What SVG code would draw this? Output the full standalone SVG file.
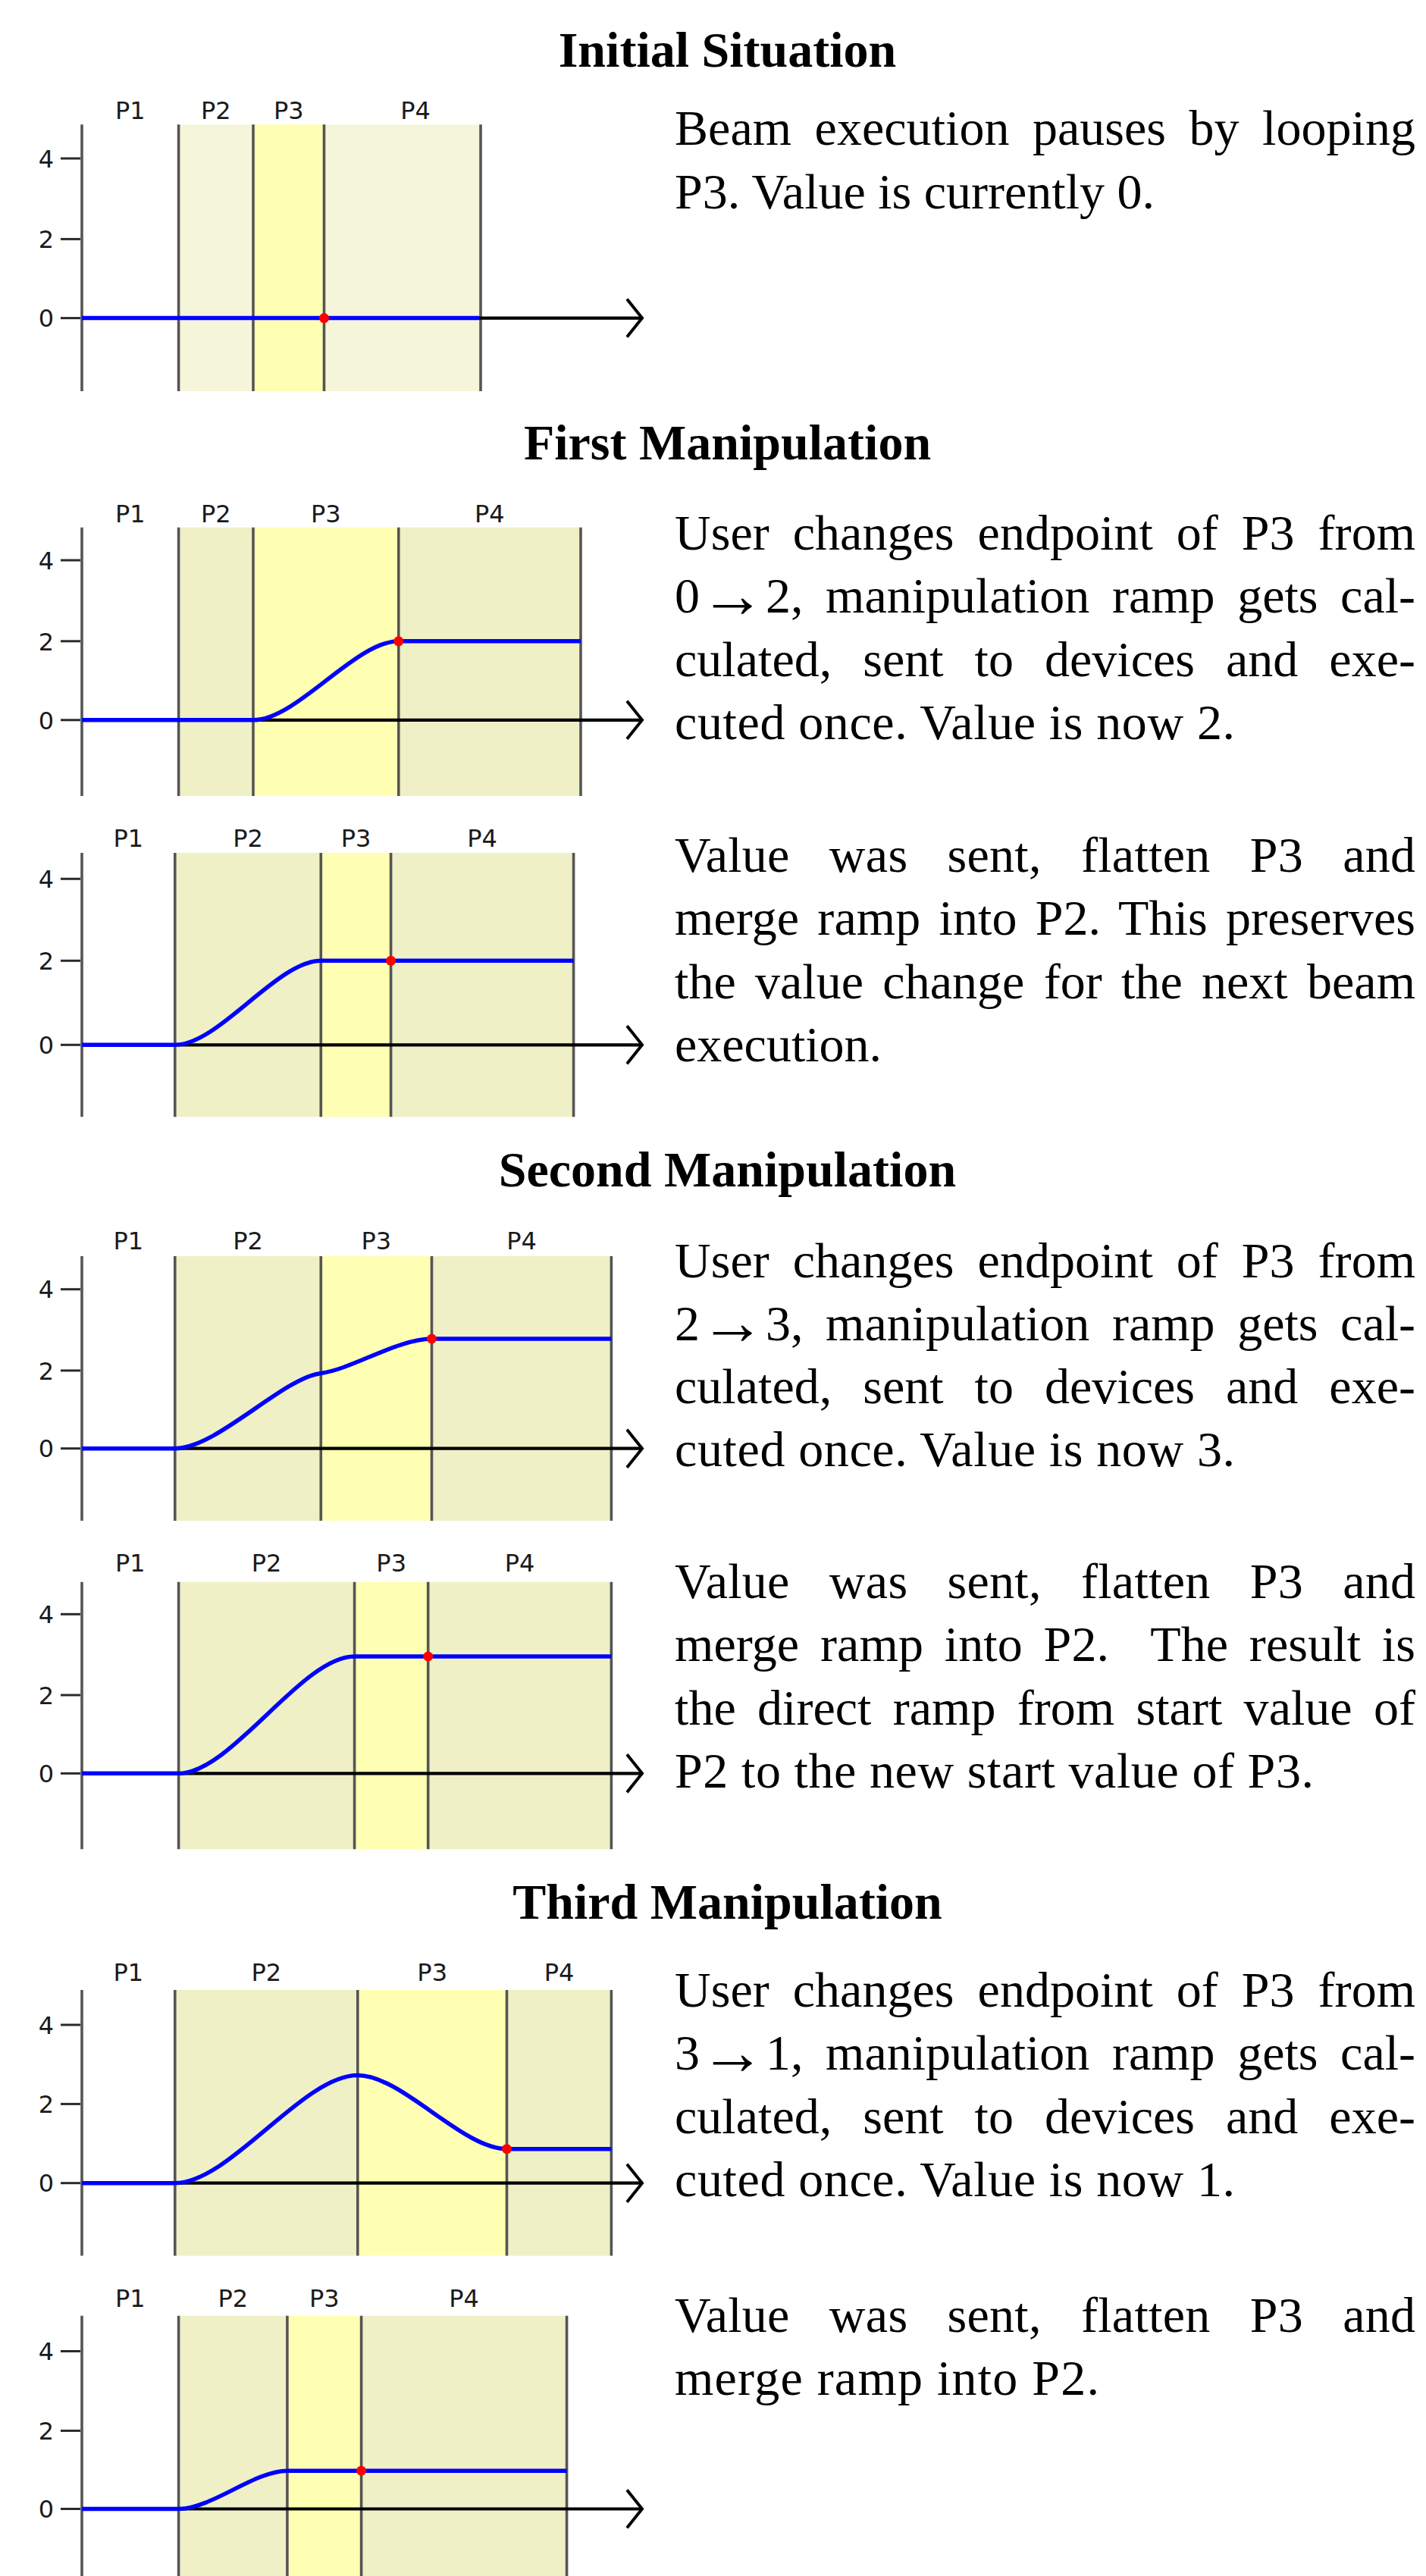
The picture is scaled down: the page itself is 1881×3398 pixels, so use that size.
<svg xmlns="http://www.w3.org/2000/svg" width="1881" height="3398" viewBox="0 0 1881 3398">
  <style>
    .title { font-family: "Liberation Serif", "Times New Roman", serif; font-weight: bold; font-size: 66px; fill: #000; text-anchor: middle; }
    .body { font-family: "Liberation Serif", "Times New Roman", serif; font-size: 66px; fill: #000; }
    .arr { font-size: 86px; text-anchor: middle; }
    .lbl { font-family: "DejaVu Sans", sans-serif; font-size: 32px; fill: #1a1a1a; text-anchor: middle; }
    .tkl { font-family: "DejaVu Sans", sans-serif; font-size: 32px; fill: #1a1a1a; text-anchor: end; }
    .tk { stroke: #2a2a2a; stroke-width: 3; }
    .vl { stroke: #555; stroke-width: 3.6; }
    .shade { fill: #f0f0c6; }
    .shade0 { fill: #f5f5da; }
    .hot { fill: #ffffb3; }
    .axis { stroke: #000; stroke-width: 4.2; fill: none; marker-end: url(#chev); }
    .ramp { stroke: #0000ff; stroke-width: 5.5; fill: none; }
    .pt { fill: #ff0000; }
  </style>
  <defs>
    <marker id="chev" markerUnits="userSpaceOnUse" markerWidth="60" markerHeight="60" refX="0" refY="0" orient="auto" style="overflow:visible">
      <path d="M-21,-25 L-1,0 L-21,25" fill="none" stroke="#000" stroke-width="4"/>
    </marker>
  </defs>

  <rect width="1881" height="3398" fill="#fff"/>

  <!-- Section headings -->
  <g id="headings">
    <text class="title" x="959.5" y="88">Initial Situation</text>
    <text class="title" x="959.5" y="605.5">First Manipulation</text>
    <text class="title" x="959.5" y="1565">Second Manipulation</text>
    <text class="title" x="959.5" y="2530.5">Third Manipulation</text>
  </g>

  <!-- Plot 1: initial situation -->
  <g id="plot-initial">
    <rect class="shade0" x="235.6" y="164.3" width="98.4" height="351.7"/>
    <rect class="hot" x="334" y="164.3" width="93.5" height="351.7"/>
    <rect class="shade0" x="427.5" y="164.3" width="206.5" height="351.7"/>
    <g class="vl">
      <line x1="108" y1="164.3" x2="108" y2="516"/>
      <line x1="235.6" y1="164.3" x2="235.6" y2="516"/>
      <line x1="334" y1="164.3" x2="334" y2="516"/>
      <line x1="427.5" y1="164.3" x2="427.5" y2="516"/>
      <line x1="634" y1="164.3" x2="634" y2="516"/>
    </g>
    <path class="axis" d="M108,419.6 H848"/>
    <path class="ramp" d="M108,419.6 H632"/>
    <circle class="pt" cx="427.5" cy="419.6" r="6.5"/>
    <g class="tk"><line x1="80" y1="419.6" x2="106" y2="419.6"/><line x1="80" y1="315.4" x2="106" y2="315.4"/><line x1="80" y1="209" x2="106" y2="209"/></g>
    <text class="tkl" x="71" y="431.3">0</text><text class="tkl" x="71" y="327.1">2</text><text class="tkl" x="71" y="220.7">4</text>
    <text class="lbl" x="171.8" y="157">P1</text><text class="lbl" x="284.8" y="157">P2</text><text class="lbl" x="380.8" y="157">P3</text><text class="lbl" x="548" y="157">P4</text>
  </g>

  <!-- Plot 2: first manipulation, ramp calculated -->
  <g id="plot-first-a">
    <rect class="shade" x="235.6" y="695.7" width="98.4" height="354.3"/>
    <rect class="hot" x="334" y="695.7" width="191.8" height="354.3"/>
    <rect class="shade" x="525.8" y="695.7" width="240.2" height="354.3"/>
    <g class="vl">
      <line x1="108" y1="695.7" x2="108" y2="1050"/>
      <line x1="235.6" y1="695.7" x2="235.6" y2="1050"/>
      <line x1="334" y1="695.7" x2="334" y2="1050"/>
      <line x1="525.8" y1="695.7" x2="525.8" y2="1050"/>
      <line x1="766" y1="695.7" x2="766" y2="1050"/>
    </g>
    <path class="axis" d="M108,949.8 H848"/>
    <path class="ramp" d="M108,949.8 H334 C391.5,949.8 468.3,845.8 525.8,845.8 H766"/>
    <circle class="pt" cx="525.8" cy="845.8" r="6.5"/>
    <g class="tk"><line x1="80" y1="949.8" x2="106" y2="949.8"/><line x1="80" y1="845.8" x2="106" y2="845.8"/><line x1="80" y1="739" x2="106" y2="739"/></g>
    <text class="tkl" x="71" y="961.5">0</text><text class="tkl" x="71" y="857.5">2</text><text class="tkl" x="71" y="750.7">4</text>
    <text class="lbl" x="171.8" y="688.8">P1</text><text class="lbl" x="284.8" y="688.8">P2</text><text class="lbl" x="429.9" y="688.8">P3</text><text class="lbl" x="645.9" y="688.8">P4</text>
  </g>

  <!-- Plot 3: first manipulation, merged into P2 -->
  <g id="plot-first-b">
    <rect class="shade" x="230.8" y="1125" width="192.5" height="348.3"/>
    <rect class="hot" x="423.3" y="1125" width="92.3" height="348.3"/>
    <rect class="shade" x="515.6" y="1125" width="241" height="348.3"/>
    <g class="vl">
      <line x1="108" y1="1125" x2="108" y2="1473.3"/>
      <line x1="230.8" y1="1125" x2="230.8" y2="1473.3"/>
      <line x1="423.3" y1="1125" x2="423.3" y2="1473.3"/>
      <line x1="515.6" y1="1125" x2="515.6" y2="1473.3"/>
      <line x1="756.6" y1="1125" x2="756.6" y2="1473.3"/>
    </g>
    <path class="axis" d="M108,1378.3 H848"/>
    <path class="ramp" d="M108,1378.3 H230.8 C288.6,1378.3 365.5,1267.3 423.3,1267.3 H756.6"/>
    <circle class="pt" cx="515.6" cy="1267.3" r="6.5"/>
    <g class="tk"><line x1="80" y1="1378.3" x2="106" y2="1378.3"/><line x1="80" y1="1267.3" x2="106" y2="1267.3"/><line x1="80" y1="1159.3" x2="106" y2="1159.3"/></g>
    <text class="tkl" x="71" y="1390">0</text><text class="tkl" x="71" y="1279">2</text><text class="tkl" x="71" y="1171">4</text>
    <text class="lbl" x="169.4" y="1116.7">P1</text><text class="lbl" x="327" y="1116.7">P2</text><text class="lbl" x="469.5" y="1116.7">P3</text><text class="lbl" x="636.1" y="1116.7">P4</text>
  </g>

  <!-- Plot 4: second manipulation, ramp calculated -->
  <g id="plot-second-a">
    <rect class="shade" x="230.8" y="1657" width="192.5" height="349"/>
    <rect class="hot" x="423.3" y="1657" width="146.2" height="349"/>
    <rect class="shade" x="569.5" y="1657" width="236.9" height="349"/>
    <g class="vl">
      <line x1="108" y1="1657" x2="108" y2="2006"/>
      <line x1="230.8" y1="1657" x2="230.8" y2="2006"/>
      <line x1="423.3" y1="1657" x2="423.3" y2="2006"/>
      <line x1="569.5" y1="1657" x2="569.5" y2="2006"/>
      <line x1="806.4" y1="1657" x2="806.4" y2="2006"/>
    </g>
    <path class="axis" d="M108,1910.7 H848"/>
    <path class="ramp" d="M108,1910.7 H230.8 C285.8,1910.7 373.3,1817.4 423.3,1811.4 C463.3,1806.6 524.5,1766 569.5,1766 H806.4"/>
    <circle class="pt" cx="569.5" cy="1766" r="6.5"/>
    <g class="tk"><line x1="80" y1="1910.7" x2="106" y2="1910.7"/><line x1="80" y1="1807.9" x2="106" y2="1807.9"/><line x1="80" y1="1700.7" x2="106" y2="1700.7"/></g>
    <text class="tkl" x="71" y="1922.4">0</text><text class="tkl" x="71" y="1819.6">2</text><text class="tkl" x="71" y="1712.4">4</text>
    <text class="lbl" x="169.4" y="1648">P1</text><text class="lbl" x="327" y="1648">P2</text><text class="lbl" x="496.4" y="1648">P3</text><text class="lbl" x="688" y="1648">P4</text>
  </g>

  <!-- Plot 5: second manipulation, merged into P2 -->
  <g id="plot-second-b">
    <rect class="shade" x="235.6" y="2086.7" width="232" height="352.6"/>
    <rect class="hot" x="467.6" y="2086.7" width="97.1" height="352.6"/>
    <rect class="shade" x="564.7" y="2086.7" width="241.7" height="352.6"/>
    <g class="vl">
      <line x1="108" y1="2086.7" x2="108" y2="2439.3"/>
      <line x1="235.6" y1="2086.7" x2="235.6" y2="2439.3"/>
      <line x1="467.6" y1="2086.7" x2="467.6" y2="2439.3"/>
      <line x1="564.7" y1="2086.7" x2="564.7" y2="2439.3"/>
      <line x1="806.4" y1="2086.7" x2="806.4" y2="2439.3"/>
    </g>
    <path class="axis" d="M108,2339.3 H848"/>
    <path class="ramp" d="M108,2339.3 H235.6 C305.2,2339.3 398,2185 467.6,2185 H806.4"/>
    <circle class="pt" cx="564.7" cy="2185" r="6.5"/>
    <g class="tk"><line x1="80" y1="2339.3" x2="106" y2="2339.3"/><line x1="80" y1="2236" x2="106" y2="2236"/><line x1="80" y1="2129.3" x2="106" y2="2129.3"/></g>
    <text class="tkl" x="71" y="2351">0</text><text class="tkl" x="71" y="2247.7">2</text><text class="tkl" x="71" y="2141">4</text>
    <text class="lbl" x="171.8" y="2073.3">P1</text><text class="lbl" x="351.6" y="2073.3">P2</text><text class="lbl" x="516.2" y="2073.3">P3</text><text class="lbl" x="685.5" y="2073.3">P4</text>
  </g>

  <!-- Plot 6: third manipulation, ramp calculated -->
  <g id="plot-third-a">
    <rect class="shade" x="230.8" y="2625" width="241" height="350.6"/>
    <rect class="hot" x="471.8" y="2625" width="196.7" height="350.6"/>
    <rect class="shade" x="668.5" y="2625" width="137.9" height="350.6"/>
    <g class="vl">
      <line x1="108" y1="2625" x2="108" y2="2975.6"/>
      <line x1="230.8" y1="2625" x2="230.8" y2="2975.6"/>
      <line x1="471.8" y1="2625" x2="471.8" y2="2975.6"/>
      <line x1="668.5" y1="2625" x2="668.5" y2="2975.6"/>
      <line x1="806.4" y1="2625" x2="806.4" y2="2975.6"/>
    </g>
    <path class="axis" d="M108,2879.7 H848"/>
    <path class="ramp" d="M108,2879.7 H230.8 C303.1,2879.7 399.5,2737.6 471.8,2737.6 C530.8,2737.6 609.5,2834.7 668.5,2834.7 H806.4"/>
    <circle class="pt" cx="668.5" cy="2834.7" r="6.5"/>
    <g class="tk"><line x1="80" y1="2879.7" x2="106" y2="2879.7"/><line x1="80" y1="2775.4" x2="106" y2="2775.4"/><line x1="80" y1="2671" x2="106" y2="2671"/></g>
    <text class="tkl" x="71" y="2891.4">0</text><text class="tkl" x="71" y="2787.1">2</text><text class="tkl" x="71" y="2682.7">4</text>
    <text class="lbl" x="169.4" y="2612.9">P1</text><text class="lbl" x="351.3" y="2612.9">P2</text><text class="lbl" x="570.2" y="2612.9">P3</text><text class="lbl" x="737.5" y="2612.9">P4</text>
  </g>

  <!-- Plot 7: third manipulation, merged into P2 -->
  <g id="plot-third-b">
    <rect class="shade" x="235.6" y="3054.7" width="143.3" height="360"/>
    <rect class="hot" x="378.9" y="3054.7" width="97.7" height="360"/>
    <rect class="shade" x="476.6" y="3054.7" width="271" height="360"/>
    <g class="vl">
      <line x1="108" y1="3054.7" x2="108" y2="3414"/>
      <line x1="235.6" y1="3054.7" x2="235.6" y2="3414"/>
      <line x1="378.9" y1="3054.7" x2="378.9" y2="3414"/>
      <line x1="476.6" y1="3054.7" x2="476.6" y2="3414"/>
      <line x1="747.6" y1="3054.7" x2="747.6" y2="3414"/>
    </g>
    <path class="axis" d="M108,3309.5 H848"/>
    <path class="ramp" d="M108,3309.5 H235.6 C278.6,3309.5 335.9,3259.2 378.9,3259.2 H747.6"/>
    <circle class="pt" cx="476.6" cy="3259.2" r="6.5"/>
    <g class="tk"><line x1="80" y1="3309.5" x2="106" y2="3309.5"/><line x1="80" y1="3206.4" x2="106" y2="3206.4"/><line x1="80" y1="3101.5" x2="106" y2="3101.5"/></g>
    <text class="tkl" x="71" y="3321.2">0</text><text class="tkl" x="71" y="3218.1">2</text><text class="tkl" x="71" y="3113.2">4</text>
    <text class="lbl" x="171.8" y="3042.7">P1</text><text class="lbl" x="307.3" y="3042.7">P2</text><text class="lbl" x="427.8" y="3042.7">P3</text><text class="lbl" x="612.1" y="3042.7">P4</text>
  </g>

  <!-- Explanatory paragraphs (justified lines) -->
  <g id="desc-initial" class="body">
    <text x="890" y="191" word-spacing="13.95" textLength="977">Beam execution pauses by looping</text>
    <text x="890" y="274.5">P3. Value is currently 0.</text>
  </g>

  <g id="desc-first-a" class="body">
    <text x="890" y="725" word-spacing="14.46" textLength="977">User changes endpoint of P3 from</text>
    <text y="808.3"><tspan x="890">0</tspan><tspan class="arr" x="966" dy="5.5">→</tspan></text>
    <text x="1010" y="808.3" word-spacing="13.1" textLength="857">2, manipulation ramp gets cal-</text>
    <text x="890" y="891.7" word-spacing="24.4" textLength="977">culated, sent to devices and exe-</text>
    <text x="890" y="975" textLength="739">cuted once. Value is now 2.</text>
  </g>

  <g id="desc-first-b" class="body">
    <text x="890" y="1150" word-spacing="35.4" textLength="977">Value was sent, flatten P3 and</text>
    <text x="890" y="1233.3" word-spacing="7.5" textLength="977">merge ramp into P2. This preserves</text>
    <text x="890" y="1316.7" word-spacing="8.7" textLength="977">the value change for the next beam</text>
    <text x="890" y="1400">execution.</text>
  </g>

  <g id="desc-second-a" class="body">
    <text x="890" y="1684.5" word-spacing="14.46" textLength="977">User changes endpoint of P3 from</text>
    <text y="1767.8"><tspan x="890">2</tspan><tspan class="arr" x="966" dy="5.5">→</tspan></text>
    <text x="1010" y="1767.8" word-spacing="13.1" textLength="857">3, manipulation ramp gets cal-</text>
    <text x="890" y="1851" word-spacing="24.4" textLength="977">culated, sent to devices and exe-</text>
    <text x="890" y="1934.3" textLength="739">cuted once. Value is now 3.</text>
  </g>

  <g id="desc-second-b" class="body">
    <text x="890" y="2108" word-spacing="35.4" textLength="977">Value was sent, flatten P3 and</text>
    <text x="890" y="2191.3" word-spacing="11.1" textLength="977">merge ramp into P2. <tspan dx="27.6">The result is</tspan></text>
    <text x="890" y="2274.6" word-spacing="11.75" textLength="977">the direct ramp from start value of</text>
    <text x="890" y="2358" textLength="843">P2 to the new start value of P3.</text>
  </g>

  <g id="desc-third-a" class="body">
    <text x="890" y="2647" word-spacing="14.46" textLength="977">User changes endpoint of P3 from</text>
    <text y="2730.3"><tspan x="890">3</tspan><tspan class="arr" x="966" dy="5.5">→</tspan></text>
    <text x="1010" y="2730.3" word-spacing="13.1" textLength="857">1, manipulation ramp gets cal-</text>
    <text x="890" y="2813.6" word-spacing="24.4" textLength="977">culated, sent to devices and exe-</text>
    <text x="890" y="2897" textLength="739">cuted once. Value is now 1.</text>
  </g>

  <g id="desc-third-b" class="body">
    <text x="890" y="3075.5" word-spacing="35.4" textLength="977">Value was sent, flatten P3 and</text>
    <text x="890" y="3158.8" textLength="560">merge ramp into P2.</text>
  </g>

  <!-- No connectors between panels -->
  <g id="connectors"/>
</svg>
